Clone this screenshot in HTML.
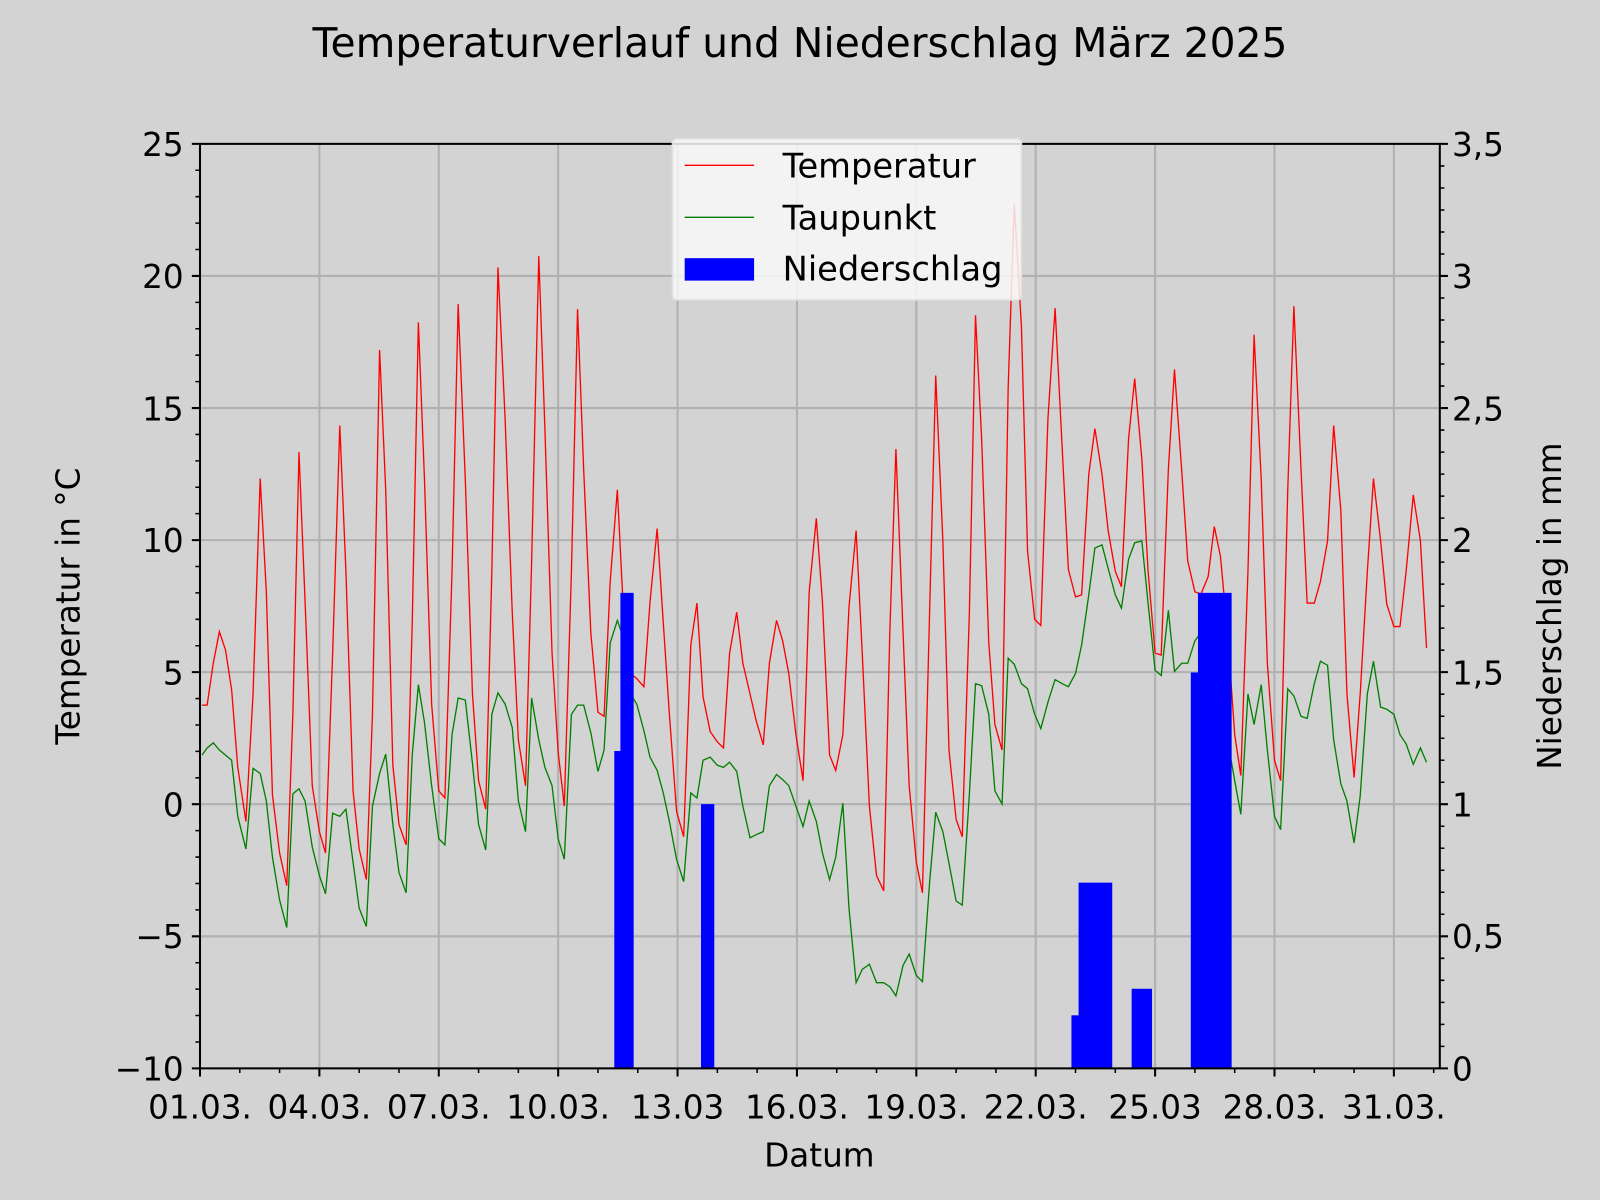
<!DOCTYPE html>
<html><head><meta charset="utf-8"><style>body{margin:0;background:#d3d3d3}svg{display:block}text{font-family:"DejaVu Sans","Liberation Sans",sans-serif;fill:#000}</style></head><body>
<svg width="1600" height="1200" viewBox="0 0 1568 1176" xmlns="http://www.w3.org/2000/svg">
<rect x="0" y="0" width="1568" height="1176" fill="#d3d3d3"/>
<text x="784" y="56" font-size="40" text-anchor="middle">Temperaturverlauf und Niederschlag März 2025</text>
<g stroke="#b0b0b0" stroke-width="2">
<line x1="313" y1="141" x2="313" y2="1047"/><line x1="430" y1="141" x2="430" y2="1047"/><line x1="547" y1="141" x2="547" y2="1047"/><line x1="664" y1="141" x2="664" y2="1047"/><line x1="781" y1="141" x2="781" y2="1047"/><line x1="898" y1="141" x2="898" y2="1047"/><line x1="1015" y1="141" x2="1015" y2="1047"/><line x1="1132" y1="141" x2="1132" y2="1047"/><line x1="1249" y1="141" x2="1249" y2="1047"/><line x1="1366" y1="141" x2="1366" y2="1047"/>
<line x1="196" y1="270.4" x2="1411" y2="270.4"/><line x1="196" y1="399.9" x2="1411" y2="399.9"/><line x1="196" y1="529.3" x2="1411" y2="529.3"/><line x1="196" y1="658.7" x2="1411" y2="658.7"/><line x1="196" y1="788.1" x2="1411" y2="788.1"/><line x1="196" y1="917.6" x2="1411" y2="917.6"/>
</g>
<polyline fill="none" stroke="#ff0000" stroke-width="1.3" points="198,691 203,691 209,650 215,619 221,637 227,676 233,752 241,805 248,680 255,469 261,580 267,779 274,836 281,868 287,700 293,443 299,590 306,770 313,815 319,836 326,640 333,417 339,560 346,775 352,832 359,862 365,700 372,343 378,480 385,750 391,808 398,828 404,610 410,316 416,470 423,690 430,775 436,782 443,560 449,298 456,470 463,680 469,765 476,793 482,560 488,262 495,410 502,600 508,725 515,770 521,550 528,251 534,420 541,640 547,737 553,790 560,560 566,303 572,460 579,620 586,698 592,702 598,570 605,480 611,600 618,660 624,665 631,673 637,590 644,518 650,610 656,700 663,795 670,820 677,632 683,591 689,683 696,717 703,727 709,733 715,640 722,600 728,650 735,680 741,706 748,730 754,650 761,608 767,628 773,660 780,720 787,765 793,580 800,508 806,590 813,740 819,755 826,720 832,595 839,520 845,640 852,790 859,858 866,873 872,620 878,440 885,620 891,770 898,845 904,875 911,600 917,368 924,530 930,735 937,803 943,820 950,600 956,309 962,430 969,630 975,710 982,735 988,380 994,200 1001,320 1007,540 1014,607 1020,613 1027,410 1034,302 1041,440 1047,558 1054,585 1060,583 1067,465 1073,420 1080,465 1086,520 1093,560 1099,575 1106,430 1112,371 1119,450 1125,558 1132,640 1138,642 1145,460 1151,362 1158,460 1164,550 1171,580 1177,582 1184,565 1190,516 1196,545 1203,620 1210,720 1216,760 1223,560 1229,328 1236,470 1242,650 1249,745 1255,765 1262,480 1268,300 1275,460 1281,591 1288,591 1294,570 1301,530 1307,417 1314,500 1320,680 1327,762 1333,680 1340,560 1346,469 1353,530 1359,592 1366,614 1372,614 1378,560 1385,485 1392,530 1398,635"/>
<polyline fill="none" stroke="#008000" stroke-width="1.3" points="198,740 203,733 209,728 215,735 221,740 227,745 233,800 241,832 248,753 255,758 261,785 267,840 274,882 281,909 287,778 293,773 299,785 306,830 313,858 319,876 326,797 333,800 339,793 346,845 352,890 359,908 365,790 372,758 378,739 385,808 391,855 398,875 404,740 410,671 416,708 423,770 430,822 436,828 443,720 449,684 456,686 463,748 469,808 476,833 482,700 488,679 495,690 502,713 508,785 515,815 521,684 528,725 534,752 541,770 547,822 553,842 560,700 566,691 572,691 579,718 586,756 592,735 598,630 605,608 611,625 618,680 624,690 631,716 637,742 644,755 650,777 656,805 663,842 670,864 677,777 683,782 689,745 696,742 703,750 709,752 715,747 722,756 728,790 735,821 741,818 748,815 754,770 761,759 767,764 773,770 780,790 787,810 793,785 800,805 806,836 813,862 819,840 826,787 832,890 839,963 845,950 852,945 859,963 866,963 872,967 878,976 885,946 891,935 898,956 904,962 911,865 917,796 924,815 930,846 937,883 943,887 950,778 956,670 962,672 969,700 975,775 982,788 988,645 994,651 1001,670 1007,675 1014,700 1020,714 1027,688 1034,666 1041,670 1047,673 1054,660 1060,632 1067,583 1073,537 1080,534 1086,557 1093,583 1099,596 1106,548 1112,532 1119,530 1125,590 1132,657 1138,662 1145,598 1151,658 1158,650 1164,650 1171,628 1177,620 1184,622 1190,640 1196,680 1203,725 1210,765 1216,798 1223,680 1229,710 1236,671 1242,735 1249,800 1255,813 1262,675 1268,682 1275,702 1281,704 1288,670 1294,648 1301,652 1307,725 1314,768 1320,785 1327,826 1333,780 1340,680 1346,648 1353,693 1359,695 1366,700 1372,720 1378,729 1385,749 1392,733 1398,747"/>
<g fill="#0000ff">
<rect x="602" y="736" width="7" height="311"/><rect x="608" y="581" width="13" height="466"/><rect x="687" y="788" width="13" height="259"/>
<rect x="1050" y="995" width="8" height="52"/><rect x="1057" y="865" width="33" height="182"/><rect x="1109" y="969" width="20" height="78"/>
<rect x="1167" y="659" width="8" height="388"/><rect x="1174" y="581" width="33" height="466"/>
</g>
<rect x="196" y="141" width="1215" height="906" fill="none" stroke="#000" stroke-width="2"/>
<g stroke="#000" stroke-width="2">
<path d="M196,141h-8M196,270.4h-8M196,399.9h-8M196,529.3h-8M196,658.7h-8M196,788.1h-8M196,917.6h-8M196,1047h-8"/>
<path d="M1411,141h8M1411,270.4h8M1411,399.9h8M1411,529.3h8M1411,658.7h8M1411,788.1h8M1411,917.6h8M1411,1047h8"/>
<path d="M196,1047v8M313,1047v8M430,1047v8M547,1047v8M664,1047v8M781,1047v8M898,1047v8M1015,1047v8M1132,1047v8M1249,1047v8M1366,1047v8"/>
</g>
<g stroke="#000" stroke-width="1.5" id="minor"></g>
<g font-size="32" text-anchor="end">
<text x="180" y="153">25</text><text x="180" y="282">20</text><text x="180" y="412">15</text><text x="180" y="541">10</text><text x="180" y="671">5</text><text x="180" y="800">0</text><text x="180" y="929">−5</text><text x="180" y="1059">−10</text>
</g>
<g font-size="32">
<text x="1423" y="153">3,5</text><text x="1423" y="282">3</text><text x="1423" y="412">2,5</text><text x="1423" y="541">2</text><text x="1423" y="671">1,5</text><text x="1423" y="800">1</text><text x="1423" y="929">0,5</text><text x="1423" y="1059">0</text>
</g>
<g font-size="32" text-anchor="middle">
<text x="196" y="1096">01.03.</text><text x="313" y="1096">04.03.</text><text x="430" y="1096">07.03.</text><text x="547" y="1096">10.03.</text><text x="664" y="1096">13.03</text><text x="781" y="1096">16.03.</text><text x="898" y="1096">19.03.</text><text x="1015" y="1096">22.03.</text><text x="1132" y="1096">25.03</text><text x="1249" y="1096">28.03.</text><text x="1366" y="1096">31.03.</text>
</g>
<text x="803" y="1143" font-size="32" text-anchor="middle">Datum</text>
<text transform="translate(78,594) rotate(-90)" font-size="32" text-anchor="middle">Temperatur in °C</text>
<text transform="translate(1530,594) rotate(-90)" font-size="32" text-anchor="middle">Niederschlag in mm</text>
<rect x="659" y="136" width="342" height="158" rx="4" fill="#f8f8f8" fill-opacity="0.85" stroke="#e0e0e0" stroke-width="1.5"/>
<line x1="671" y1="162" x2="739" y2="162" stroke="#ff0000" stroke-width="1.3"/>
<line x1="671" y1="213" x2="739" y2="213" stroke="#008000" stroke-width="1.3"/>
<rect x="671" y="253" width="68" height="22" fill="#0000ff"/>
<g font-size="33"><text x="767" y="174">Temperatur</text><text x="767" y="225">Taupunkt</text><text x="767" y="275">Niederschlag</text></g>
<script>
var g=document.getElementById('minor'),d='';
for(var t=-10;t<=25;t++){if(t%5){var y=1047-(t+10)*25.886;d+='M196,'+y+'h-4.5';}}
for(var k=0;k<=42;k++){if(k%6){var y=1047-k*21.57;d+='M1411,'+y+'h4.5';}}
for(var i=0;i<=31;i++){if(i%3){var x=196+i*39;d+='M'+x+',1047v4.5';}}
var p=document.createElementNS('http://www.w3.org/2000/svg','path');p.setAttribute('d',d);g.appendChild(p);
</script>
</svg>
</body></html>
